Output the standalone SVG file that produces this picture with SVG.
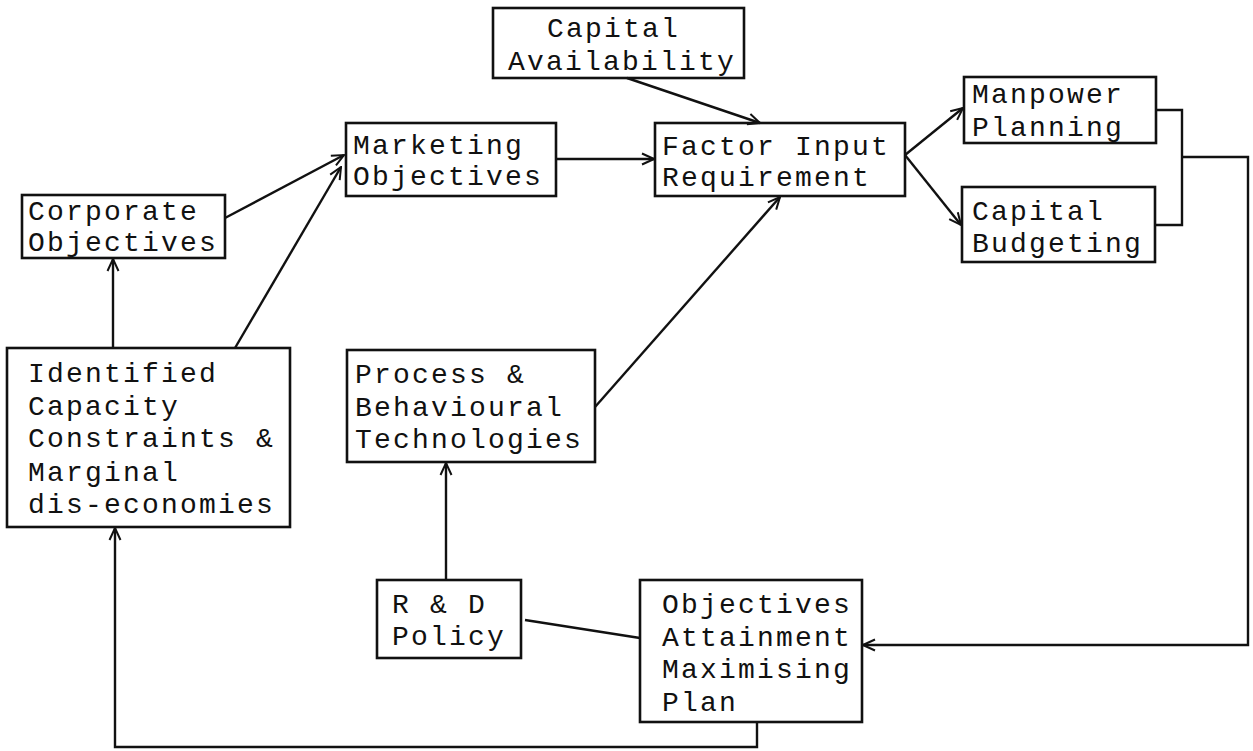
<svg xmlns="http://www.w3.org/2000/svg" width="1253" height="751" viewBox="0 0 1253 751">
<defs>
<style>
.box{fill:none;stroke:#111;stroke-width:2.6}
.t{font-family:"Liberation Mono","Courier New",monospace;font-size:28px;letter-spacing:2.2px;fill:#111}
.c{fill:none;stroke:#111;stroke-width:2.4}
</style>
<marker id="ah" viewBox="0 0 14 14" refX="13" refY="7" markerWidth="14" markerHeight="14" markerUnits="userSpaceOnUse" orient="auto">
<path d="M1,1.5 L13,7 L1,12.5" fill="none" stroke="#111" stroke-width="2"/>
</marker>
</defs>
<rect width="1253" height="751" fill="#fff"/>
<g id="connectors">
<line class="c" x1="113" y1="348" x2="113" y2="259" marker-end="url(#ah)"/>
<line class="c" x1="235" y1="348" x2="341" y2="167" marker-end="url(#ah)"/>
<line class="c" x1="225" y1="218" x2="344" y2="155" marker-end="url(#ah)"/>
<line class="c" x1="556" y1="159" x2="654" y2="159" marker-end="url(#ah)"/>
<line class="c" x1="627" y1="78" x2="760" y2="123" marker-end="url(#ah)"/>
<line class="c" x1="595" y1="407" x2="780" y2="197" marker-end="url(#ah)"/>
<line class="c" x1="905" y1="155" x2="963" y2="108" marker-end="url(#ah)"/>
<line class="c" x1="905" y1="155" x2="961" y2="225" marker-end="url(#ah)"/>
<polyline class="c" points="1156,110 1182,110 1182,225 1155,225"/>
<polyline class="c" points="1182,157 1248,157 1248,645 863,645" marker-end="url(#ah)"/>
<line class="c" x1="446" y1="580" x2="446" y2="463" marker-end="url(#ah)"/>
<line class="c" x1="525" y1="620" x2="640" y2="638"/>
<polyline class="c" points="757,722 757,747 115,747 115,528" marker-end="url(#ah)"/>
</g>
<g id="corporate">
<rect class="box" x="22" y="195" width="203" height="63"/>
<text class="t" x="28" y="220">Corporate</text>
<text class="t" x="28" y="251">Objectives</text>
</g>
<g id="marketing">
<rect class="box" x="346" y="123" width="210" height="73"/>
<text class="t" x="353" y="154">Marketing</text>
<text class="t" x="353" y="185">Objectives</text>
</g>
<g id="capital-availability">
<rect class="box" x="493" y="8" width="251" height="70"/>
<text class="t" x="547" y="37">Capital</text>
<text class="t" x="508" y="70">Availability</text>
</g>
<g id="factor-input">
<rect class="box" x="655" y="123" width="250" height="73"/>
<text class="t" x="662" y="155">Factor Input</text>
<text class="t" x="662" y="186">Requirement</text>
</g>
<g id="manpower">
<rect class="box" x="964" y="77" width="192" height="66"/>
<text class="t" x="972" y="103">Manpower</text>
<text class="t" x="972" y="136">Planning</text>
</g>
<g id="capital-budgeting">
<rect class="box" x="962" y="187" width="193" height="75"/>
<text class="t" x="972" y="220">Capital</text>
<text class="t" x="972" y="252">Budgeting</text>
</g>
<g id="identified">
<rect class="box" x="7" y="348" width="283" height="179"/>
<text class="t" x="28" y="382">Identified</text>
<text class="t" x="28" y="415">Capacity</text>
<text class="t" x="28" y="447">Constraints &amp;</text>
<text class="t" x="28" y="481">Marginal</text>
<text class="t" x="28" y="513">dis-economies</text>
</g>
<g id="process">
<rect class="box" x="347" y="350" width="248" height="112"/>
<text class="t" x="355" y="383">Process &amp;</text>
<text class="t" x="355" y="416">Behavioural</text>
<text class="t" x="355" y="448">Technologies</text>
</g>
<g id="rd-policy">
<rect class="box" x="377" y="580" width="144" height="78"/>
<text class="t" x="392" y="613">R &amp; D</text>
<text class="t" x="392" y="645">Policy</text>
</g>
<g id="objectives-plan">
<rect class="box" x="640" y="580" width="222" height="142"/>
<text class="t" x="662" y="613">Objectives</text>
<text class="t" x="662" y="646">Attainment</text>
<text class="t" x="662" y="678">Maximising</text>
<text class="t" x="662" y="711">Plan</text>
</g>
</svg>
